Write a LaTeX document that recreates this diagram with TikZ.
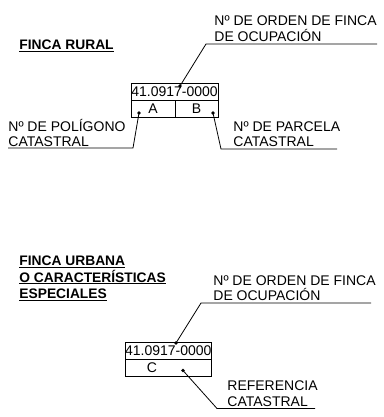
\documentclass[tikz,border=0pt]{standalone}
\usepackage{fontspec}
\setmainfont{Liberation Sans}
\begin{document}
\begin{tikzpicture}[x=1pt,y=-1pt, line width=0.8pt,
  lbl/.style={anchor=base west, inner sep=0pt, font=\fontsize{14}{16}\selectfont},
  ttl/.style={anchor=base west, inner sep=0pt, font=\fontsize{13.8}{16}\selectfont\bfseries},
  cell/.style={draw, minimum height=17pt, inner sep=0pt, font=\fontsize{14}{16}\selectfont},
  pt/.style={circle, fill, inner sep=0pt, minimum size=3.6pt},
  ]
\useasboundingbox (0,0) rectangle (383,417);

% ---------- FINCA RURAL ----------
\node[ttl] (t1) at (19,50) {\underline{FINCA RURAL}};

\node[lbl] (o1a) at (214,25.5) {Nº DE ORDEN DE FINCA};
\node[lbl] (o1b) at (214,41.5) {DE OCUPACIÓN};
\coordinate (o1L) at (206,44);
\coordinate (o1R) at (377,44);

\node[cell, minimum width=87pt] (num1) at (174.5,91.5) {41.0917-0000};
\node[cell, minimum width=44pt] (cA) at (153,108.5) {A};
\node[cell, minimum width=43pt] (cB) at (196.5,108.5) {B};

\node[pt] (d1) at (180,86) {};
\node[pt] (dA) at (139,113) {};
\node[pt] (dB) at (213,113) {};

\draw (o1R) -- (o1L) -- (d1.center);

\node[lbl] (pa) at (8,131) {Nº DE POLÍGONO};
\node[lbl] (pb) at (8,146) {CATASTRAL};
\coordinate (pK) at (133,148);
\coordinate (pE) at (8,148);
\draw (dA.center) -- (pK) -- (pE);

\node[lbl] (qa) at (233,131.5) {Nº DE PARCELA};
\node[lbl] (qb) at (233,146.5) {CATASTRAL};
\coordinate (qK) at (221,149);
\coordinate (qE) at (337,149);
\draw (dB.center) -- (qK) -- (qE);

% ---------- FINCA URBANA ----------
\node[ttl] (u1) at (19,265.5) {\underline{FINCA URBANA}};
\node[ttl] (u2) at (19,282) {\underline{O CARACTERÍSTICAS}};
\node[ttl] (u3) at (19,298.5) {\underline{ESPECIALES}};

\node[lbl] (o2a) at (213,285) {Nº DE ORDEN DE FINCA};
\node[lbl] (o2b) at (213,300.5) {DE OCUPACIÓN};
\coordinate (o2L) at (201,303);
\coordinate (o2R) at (371,303);

\node[cell, minimum width=86.5pt] (num2) at (168.25,350.5) {41.0917-0000};
\node[cell, minimum width=86.5pt] (cC) at (168.25,367.5) {};
\node[lbl, anchor=center] (tC) at (152,367.5) {C};

\node[pt] (d2) at (176,343) {};
\node[pt] (dC) at (183,370.5) {};
\draw (o2R) -- (o2L) -- (d2.center);

\node[lbl] (ra) at (227,390.5) {REFERENCIA};
\node[lbl] (rb) at (227,406) {CATASTRAL};
\coordinate (rK) at (217,408.5);
\coordinate (rE) at (315,408.5);
\draw (dC.center) -- (rK) -- (rE);
\end{tikzpicture}
\end{document}
